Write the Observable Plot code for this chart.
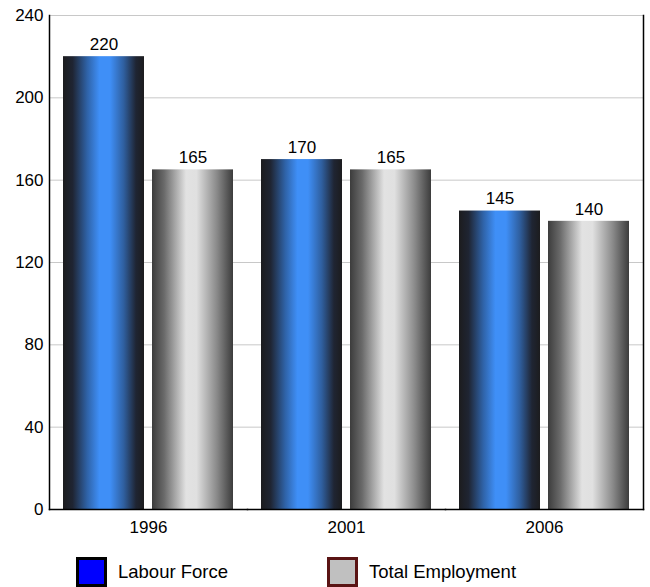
<!DOCTYPE html>
<html>
<head>
<meta charset="utf-8">
<script src="https://cdn.jsdelivr.net/npm/d3@7"></script>
<script src="https://cdn.jsdelivr.net/npm/@observablehq/plot@0.6"></script>
<style>
  body { margin: 0; background: #fff; font-family: "Liberation Sans", Arial, sans-serif; }
  #legend { position: relative; height: 42px; font-size: 18.5px; color: #000; }
  .item { position: absolute; top: 12px; display: flex; align-items: center; }
  .sw { width: 25px; height: 24px; box-sizing: content-box; margin-right: 11px; }
</style>
</head>
<body>
<div id="chart"></div>
<div id="legend"></div>
<script>
const years = ["1996", "2001", "2006"];
const seriesNames = ["Labour Force", "Total Employment"];
const labourForce = [220, 170, 145];
const totalEmployment = [165, 165, 140];
const yTicks = [0, 40, 80, 120, 160, 200, 240];

const data = [];
years.forEach((y, i) => {
  data.push({year: y, series: seriesNames[0], value: labourForce[i]});
  data.push({year: y, series: seriesNames[1], value: totalEmployment[i]});
});

const fillFor = d => d.series === seriesNames[0] ? "url(#gradBlue)" : "url(#gradGray)";

const chart = Plot.plot({
  width: 650,
  height: 545,
  marginTop: 15,
  marginBottom: 36,
  marginLeft: 49,
  marginRight: 7,
  style: {fontFamily: "Liberation Sans, Arial, sans-serif", fontSize: "17px", color: "#000", background: "#fff"},
  fx: {domain: years, paddingInner: 0, paddingOuter: 0, label: null, axis: null},
  x: {domain: seriesNames, paddingInner: 0.085, paddingOuter: 0.15, axis: null},
  y: {domain: [0, 240], ticks: yTicks, label: null, axis: null},
  marks: [
    Plot.gridY(yTicks, {stroke: "#c8c8c8", strokeOpacity: 1}),
    Plot.barY(data, {fx: "year", x: "series", y: "value", fill: fillFor}),
    Plot.text(data, {fx: "year", x: "series", y: "value", text: d => String(d.value), dy: -12, fontSize: 17, fill: "#000"}),
    Plot.axisY(yTicks, {tickSize: 0, tickPadding: 6, fontSize: 17, label: null}),
    Plot.axisFx({anchor: "bottom", tickSize: 0, tickPadding: 11, fontSize: 17, label: null}),
    Plot.frame({anchor: "top", stroke: "#c8c8c8"}),
    Plot.frame({anchor: "bottom", stroke: "#000", strokeWidth: 1.5}),
    Plot.frame({anchor: "left", stroke: "#000", strokeWidth: 1.5, facetAnchor: "left"}),
    Plot.frame({anchor: "right", stroke: "#000", strokeWidth: 1.5, facetAnchor: "right"})
  ]
});

const svg = d3.select(chart.tagName.toLowerCase() === "svg" ? chart : chart.querySelector("svg"));
const defs = svg.insert("defs", ":first-child");
function grad(id, stops) {
  const g = defs.append("linearGradient").attr("id", id).attr("x1", "0").attr("x2", "1").attr("y1", "0").attr("y2", "0");
  stops.forEach(([o, c]) => g.append("stop").attr("offset", o).attr("stop-color", c));
}
grad("gradBlue", [[0, "#1c1c1e"], [0.12, "#1f2533"], [0.3, "#2f63a8"], [0.45, "#3f8ff7"], [0.58, "#3f8ff7"], [0.75, "#2f5f9f"], [0.9, "#1f2533"], [1, "#1c1c1e"]]);
grad("gradGray", [[0, "#3c3c3c"], [0.15, "#6a6a6a"], [0.42, "#e2e2e2"], [0.55, "#e0e0e0"], [0.8, "#8a8a8a"], [1, "#3c3c3c"]]);

document.getElementById("chart").appendChild(chart);

const legend = document.getElementById("legend");
const items = [
  {name: seriesNames[0], left: 76, fill: "#0000ff", border: "#000000"},
  {name: seriesNames[1], left: 327, fill: "#c0c0c0", border: "#5a1414"}
];
items.forEach(it => {
  const div = document.createElement("div");
  div.className = "item";
  div.style.left = it.left + "px";
  const sw = document.createElement("div");
  sw.className = "sw";
  sw.style.background = it.fill;
  sw.style.border = "3px solid " + it.border;
  const t = document.createElement("span");
  t.textContent = it.name;
  div.appendChild(sw);
  div.appendChild(t);
  legend.appendChild(div);
});
</script>
</body>
</html>
